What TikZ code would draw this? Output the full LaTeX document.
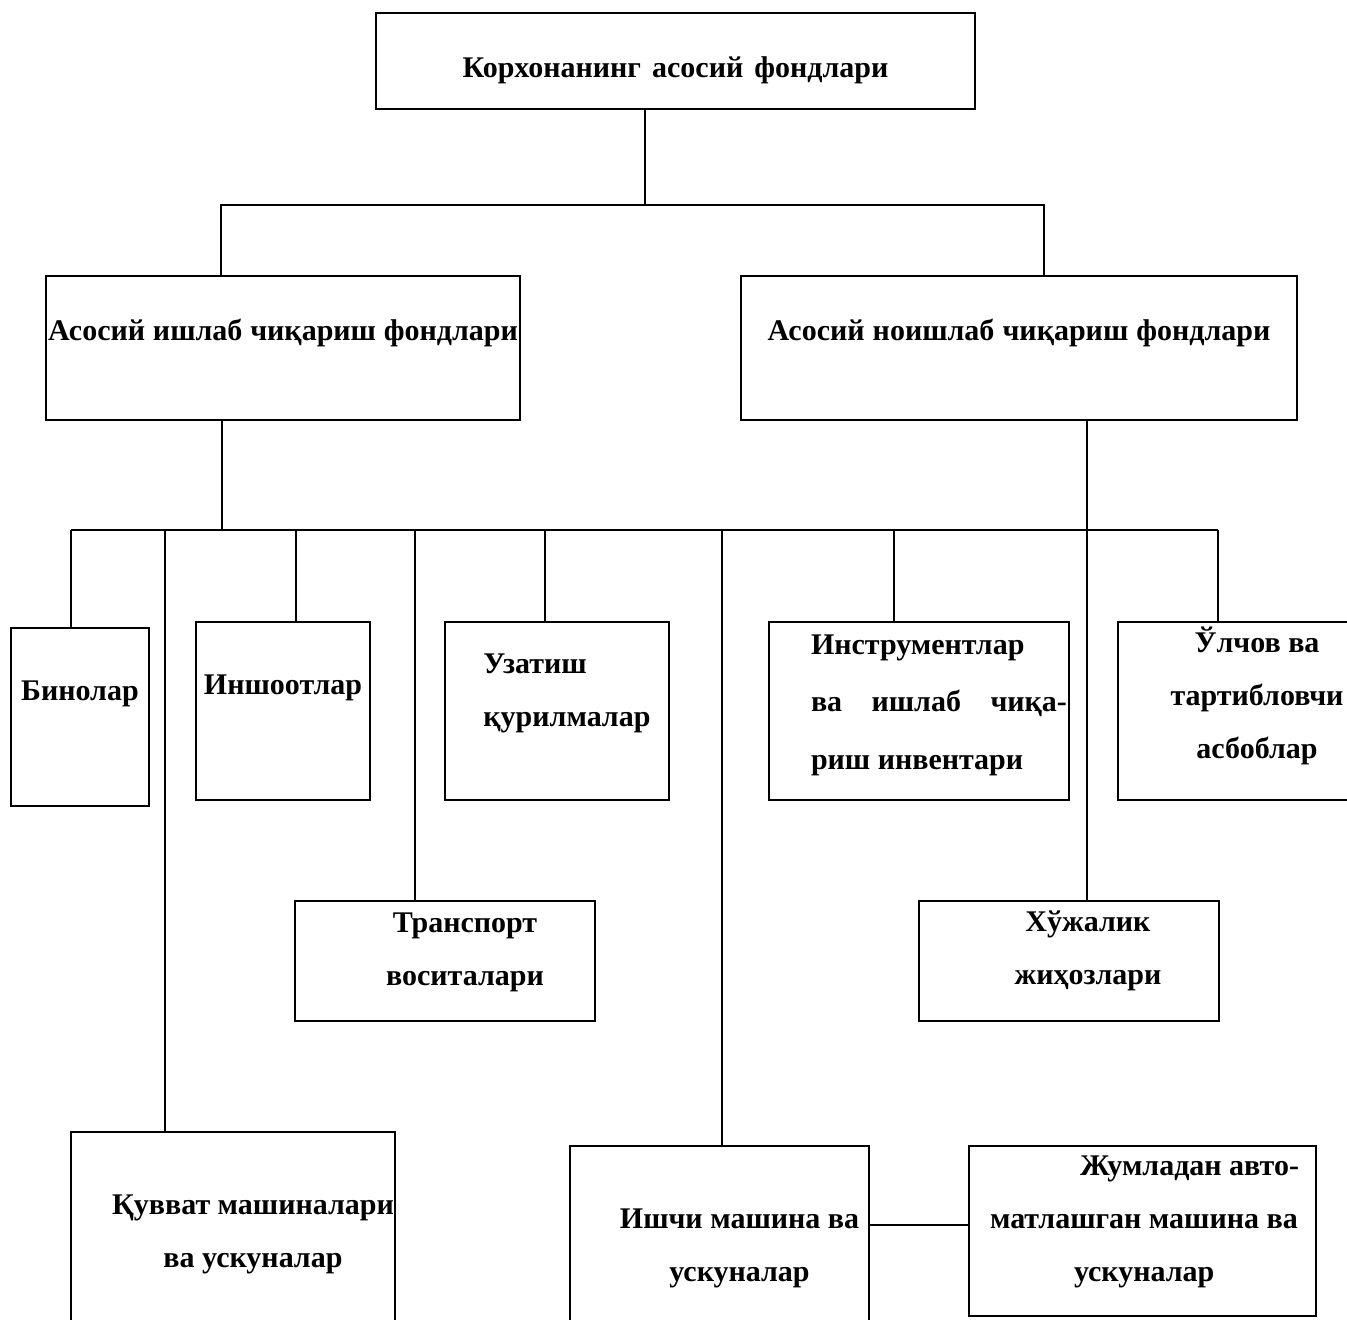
\documentclass[tikz,border=0pt]{standalone}
\usepackage{fontspec}
\setmainfont{Liberation Serif}

\begin{document}
\begin{tikzpicture}[x=0.5pt, y=-0.5pt, line width=1pt,
	box/.style = {draw, rectangle, inner sep=0pt},
	every label/.style = {font=\fontsize{15}{26.5}\selectfont\bfseries, align=center,
		inner sep=0pt, text height=0pt, text depth=0pt}]
	\useasboundingbox (0,0) rectangle (1347,1320);
	\clip (0,0) rectangle (1347,1320);
	\node[box, minimum width=299.5pt, minimum height=48pt,
		label={[yshift=-8.5pt]center:\makebox[213pt][s]{Корхонанинг асосий фондлари}}] (top) at (675.5,61) {};
	\node[box, minimum width=237pt, minimum height=72pt,
		label={[yshift=3.5pt]center:\makebox[235pt][s]{Асосий ишлаб чиқариш фондлари}}] (prod) at (283,348) {};
	\node[box, minimum width=278pt, minimum height=72pt,
		label={[yshift=3.5pt]center:\makebox[251.5pt][s]{Асосий ноишлаб чиқариш фондлари}}] (nonprod) at (1019,348) {};
	\node[box, minimum width=69pt, minimum height=89pt,
		label={[yshift=8.5pt]center:Бинолар}] (bino) at (80,717) {};
	\node[box, minimum width=87pt, minimum height=89pt,
		label={[yshift=8.5pt]center:Иншоотлар}] (insh) at (283,711) {};
	\node[box, minimum width=112pt, minimum height=89pt,
		label={[xshift=5pt, yshift=-7.5pt, align=left]center:Узатиш\\қурилмалар}] (uzat) at (557,711) {};
	\node[box, minimum width=150pt, minimum height=89pt,
		label={[xshift=10pt, yshift=-29pt, align=left, font=\fontsize{15}{28.75}\selectfont\bfseries]center:Инструментлар\\\makebox[128pt][s]{ва ишлаб чиқа-}\\риш инвентари}] (instr) at (919,711) {};
	\node[box, minimum width=139pt, minimum height=89pt,
		label={[yshift=-23.5pt]center:Ўлчов ва\\тартибловчи\\асбоблар}] (ulch) at (1257,711) {};
	\node[box, minimum width=150pt, minimum height=60pt,
		label={[xshift=10pt, yshift=-12pt]center:Транспорт\\воситалари}] (trans) at (445,961) {};
	\node[box, minimum width=150pt, minimum height=60pt,
		label={[xshift=9.5pt, yshift=-11.5pt]center:Хўжалик\\жиҳозлари}] (xuzh) at (1069,961) {};
	\node[box, minimum width=162pt, minimum height=104pt,
		label={[xshift=10pt, yshift=-15.5pt]center:Қувват машиналари\\ва ускуналар}] (quvv) at (233,1236) {};
	\node[box, minimum width=149.5pt, minimum height=97pt,
		label={[xshift=10pt, yshift=-19pt]center:Ишчи машина ва\\ускуналар}] (ishchi) at (719.5,1243) {};
	\node[box, minimum width=173.5pt, minimum height=85pt,
		label={[xshift=1pt, yshift=-25pt, align=left]center:\hspace*{45pt}Жумладан авто-\\матлашган машина ва\\\hspace*{42pt}ускуналар}] (jumla) at (1142.5,1231) {};
	\coordinate (t) at (645,205);
	\coordinate (tl) at (221,205);
	\coordinate (tr) at (1044,205);
	\coordinate (m) at (222,530);
	\coordinate (ml) at (71,530);
	\coordinate (mr) at (1218,530);
	\draw (top.south -| t) -- (t);
	\draw (prod.north -| tl) -- (tl) -- (tr) -- (nonprod.north -| tr);
	\draw (prod.south -| m) -- (m);
	\draw (ml) -- (mr);
	\foreach \n/\x in {bino/71, quvv/165, insh/296, trans/415, uzat/545, ishchi/722, instr/894, ulch/1218}
		\draw (\x,530) -- (\n.north -| \x,530);
	\draw (nonprod.south -| 1087,0) -- (xuzh.north -| 1087,0);
	\draw (ishchi.east |- 0,1225) -- (jumla.west |- 0,1225);
\end{tikzpicture}
\end{document}
